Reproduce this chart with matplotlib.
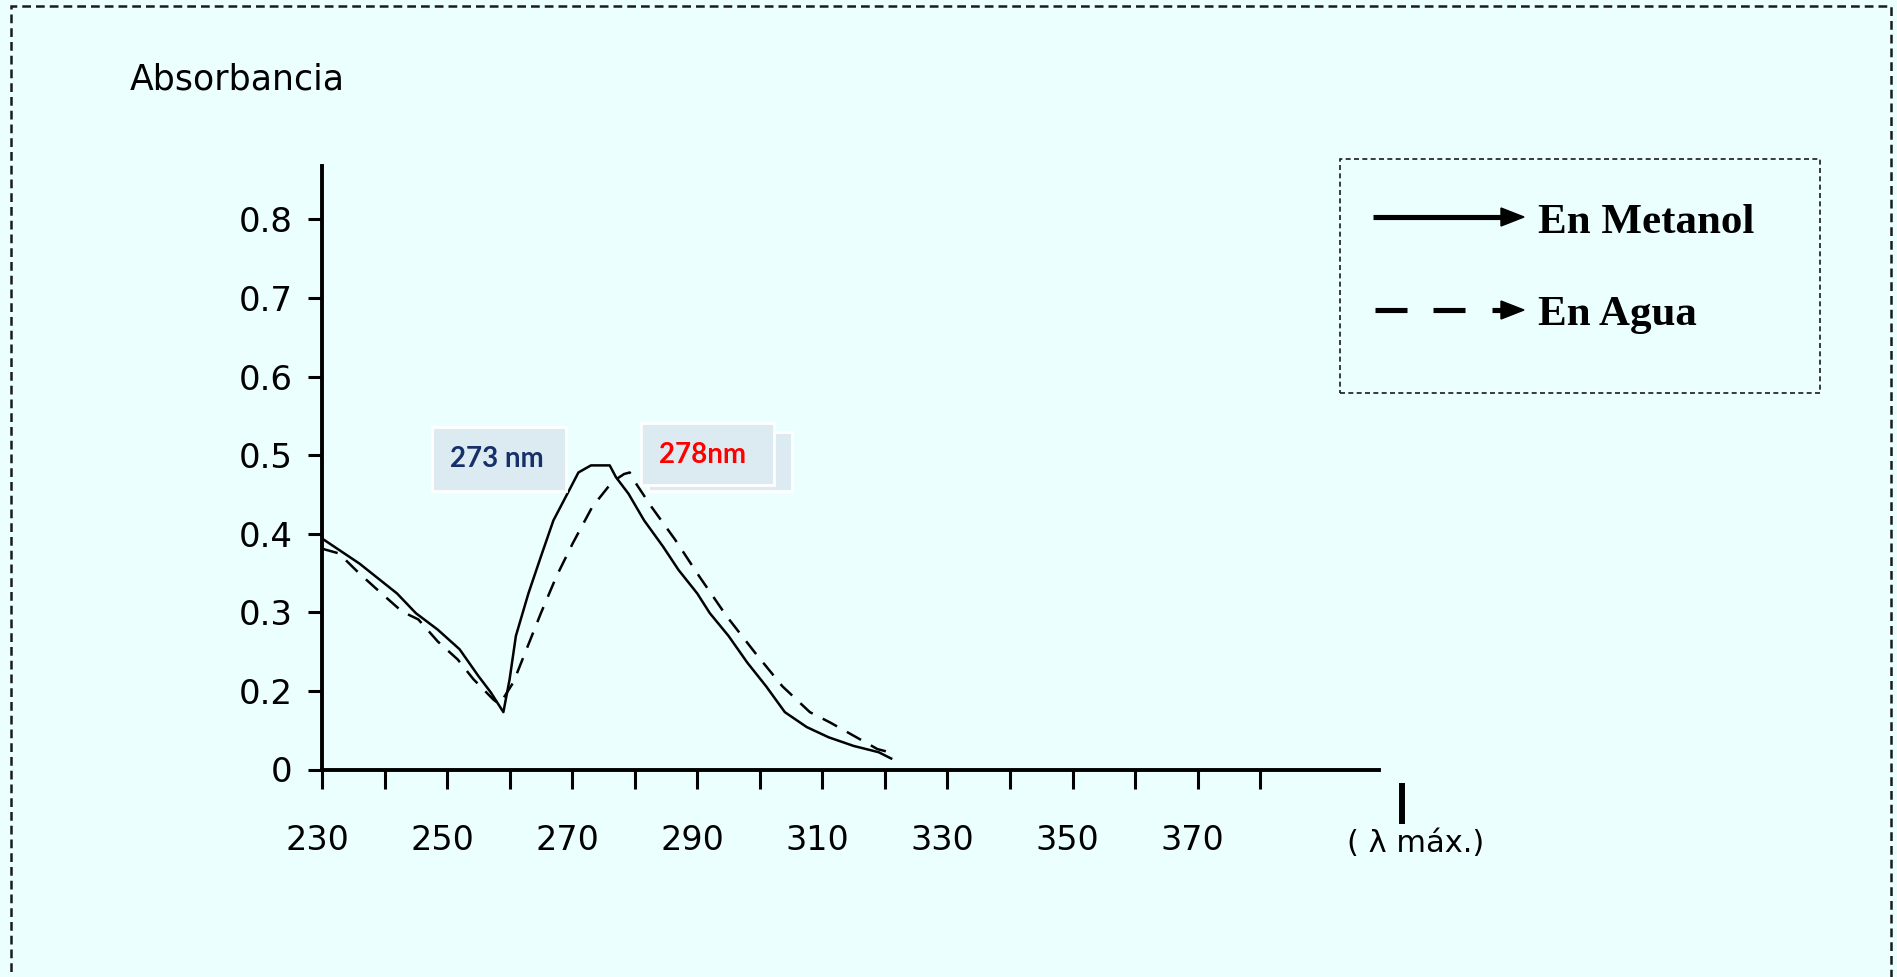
import matplotlib
matplotlib.use('Agg')
import matplotlib.pyplot as plt
import matplotlib.transforms as mtransforms
from matplotlib.patches import Rectangle, Polygon
from matplotlib.lines import Line2D

wl_metanol = [230, 236, 239, 242, 245, 248.5, 252, 255, 257, 259, 260, 261, 263, 265, 267,
              269.5, 271, 273, 276, 277, 279, 281.5, 284.5, 287, 290, 292, 295, 298, 301,
              304, 307.5, 311, 315, 319, 321]
abs_metanol = [0.394, 0.362, 0.343, 0.324, 0.299, 0.278, 0.253, 0.219, 0.198, 0.173, 0.215,
               0.270, 0.324, 0.371, 0.417, 0.455, 0.478, 0.487, 0.487, 0.472, 0.451, 0.417,
               0.384, 0.354, 0.324, 0.299, 0.270, 0.236, 0.206, 0.173, 0.154, 0.141, 0.130,
               0.122, 0.114]

wl_agua = [230, 232.7, 235.9, 239.1, 242.8, 245.4, 248.5, 251.7, 254.2, 257.4, 258.4, 260.6,
           262.5, 265, 267.5, 270.1, 273.2, 276.4, 278.3, 279.2, 280.2, 282.7, 286.5, 290.3,
           294.7, 299.2, 303.6, 308, 311.2, 315, 318.8, 320.7]
abs_agua = [0.381, 0.375, 0.350, 0.327, 0.301, 0.291, 0.263, 0.240, 0.215, 0.189, 0.183, 0.211,
            0.249, 0.299, 0.346, 0.388, 0.434, 0.466, 0.476, 0.478, 0.464, 0.434, 0.392, 0.346,
            0.295, 0.249, 0.206, 0.173, 0.160, 0.143, 0.126, 0.122]

xticks = list(range(230, 390, 10))
xtick_labels = [str(t) if (t - 230) % 20 == 0 and t <= 370 else '' for t in xticks]
yticks = [0.1, 0.2, 0.3, 0.4, 0.5, 0.6, 0.7, 0.8]
ytick_labels = ['0', '0.2', '0.3', '0.4', '0.5', '0.6', '0.7', '0.8']

W, H = 1897, 977
BG = '#ebffff'

def px(x, y):
    return (x / W, 1 - y / H)

fig = plt.figure(figsize=(W / 100, H / 100), dpi=100, facecolor=BG)

# marco exterior punteado
x0, y0 = px(11, 1010)
x1, y1 = px(1891, 6)
fig.add_artist(Rectangle((x0, y0), x1 - x0, y1 - y0, transform=fig.transFigure,
                         fill=False, ec='#1a1a1a', lw=1.8, linestyle=(0, (3.5, 2))))

ax = fig.add_axes([322 / W, (977 - 769.5) / H, (1379 - 322) / W, (769.5 - 166) / H])
ax.set_facecolor('none')

ax.plot(wl_metanol, abs_metanol, color='black', lw=1.8)
ax.plot(wl_agua, abs_agua, color='black', lw=1.8, linestyle=(0, (6.5, 4.5)))

ax.set_xlim(230, 399)
ax.set_ylim(0.1, 0.868)
ax.spines['top'].set_visible(False)
ax.spines['right'].set_visible(False)
ax.spines['left'].set_linewidth(2.8)
ax.spines['bottom'].set_linewidth(2.8)

ax.set_xticks(xticks)
ax.set_xticklabels(xtick_labels, fontsize=24, family='DejaVu Sans')
ax.set_yticks(yticks)
ax.set_yticklabels(ytick_labels, fontsize=24.5, family='DejaVu Sans')
ax.tick_params(axis='x', direction='out', length=14, width=2.2, pad=25)
ax.tick_params(axis='y', direction='out', length=10, width=2.2, pad=11)
shift = mtransforms.ScaledTranslation(-5 / 100, 0, fig.dpi_scale_trans)
for lab in ax.get_xticklabels():
    lab.set_transform(lab.get_transform() + shift)

# textos
fig.text(*px(130, 90), 'Absorbancia', fontsize=25, family='DejaVu Sans', va='baseline', ha='left')
fig.text(*px(1416, 843), '( λ máx.)', fontsize=22, family='DejaVu Sans', va='center', ha='center')
fig.add_artist(Line2D([1402 / W, 1402 / W], [1 - 783 / H, 1 - 824 / H],
                      transform=fig.transFigure, color='black', lw=4.3, solid_capstyle='butt'))

# cuadros de lambda max
def caja(xa, ya, xb, yb):
    a = px(xa, yb)
    b = px(xb, ya)
    fig.add_artist(Rectangle(a, b[0] - a[0], b[1] - a[1], transform=fig.transFigure,
                             fc='#dcebf2', ec='white', lw=2))

caja(432, 427, 566, 491)
fig.text(*px(497, 459), '273 nm', fontsize=20, family=['Lato', 'DejaVu Sans'], weight='bold',
         color='#16306a', ha='center', va='center')
caja(648, 432, 792, 491)
caja(641, 423, 774, 485)
fig.text(*px(702, 455), '278nm', fontsize=20, family=['Lato', 'DejaVu Sans'], weight='bold',
         color='#ff0000', ha='center', va='center')

# leyenda dibujada a mano
la = px(1340, 393)
lb = px(1820, 159)
fig.add_artist(Rectangle(la, lb[0] - la[0], lb[1] - la[1], transform=fig.transFigure,
                         fill=False, ec='#1a1a1a', lw=1.2, linestyle=(0, (3, 2))))

def flecha(y, segmentos):
    for xa, xb in segmentos:
        fig.add_artist(Line2D([xa / W, xb / W], [1 - y / H, 1 - y / H], transform=fig.transFigure,
                              color='black', lw=3.7, solid_capstyle='butt'))
    fig.add_artist(Polygon([px(1501, y - 9), px(1524, y), px(1501, y + 9)], closed=True,
                           transform=fig.transFigure, fc='black', ec='black'))

flecha(217, [(1373, 1503)])
flecha(310, [(1375, 1407), (1433, 1465), (1492, 1503)])
fig.text(*px(1538, 233), 'En Metanol', fontsize=31, family='Liberation Serif', weight='bold',
         va='baseline', ha='left')
fig.text(*px(1538, 325), 'En Agua', fontsize=31, family='Liberation Serif', weight='bold',
         va='baseline', ha='left')

fig.savefig('out.png', dpi=100, facecolor=BG)
